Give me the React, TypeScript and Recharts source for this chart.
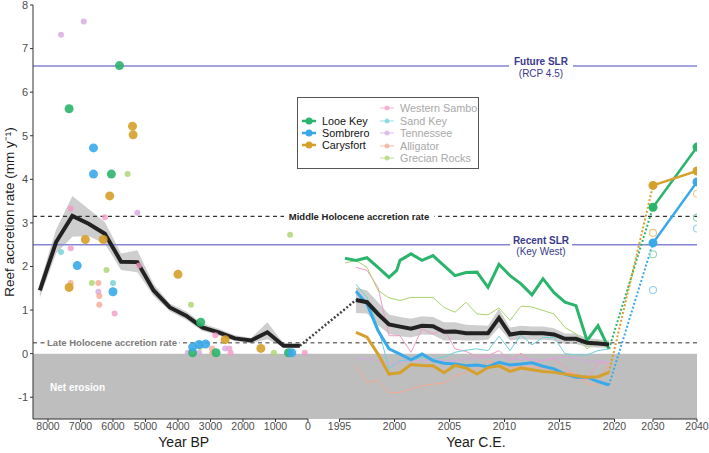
import React from "react";
import {
  ComposedChart,
  Line,
  Area,
  Scatter,
  XAxis,
  YAxis,
  ReferenceLine,
  ReferenceArea,
  Legend
} from "recharts";

const FONT = "'Liberation Sans', Arial, sans-serif";

// broken x axis: Year BP | Year C.E. | projections, laid side by side on one numeric axis
const BP_START = 8461;
const BP_K = 0.0325;
const CE_OFF = 306.5;
const CE_K = 11;
const FUT_OFF = 620;
const FUT_K = 4.4;
const bpX = (bp: number) => (BP_START - bp) * BP_K;
const ceX = (yr: number) => CE_OFF + (yr - 1995) * CE_K;
const futX = (yr: number) => FUT_OFF + (yr - 2030) * FUT_K;

const bpTicks = [8000, 7000, 6000, 5000, 4000, 3000, 2000, 1000, 0];
const ceTicks = [1995, 2000, 2005, 2010, 2015, 2020];
const futTicks = [2030, 2040];
const yTicks = [-1, 0, 1, 2, 3, 4, 5, 6, 7, 8];

/* reefs */
const reefs = ["Looe Key", "Sombrero", "Carysfort", "Western Sambo", "Sand Key", "Tennessee", "Alligator", "Grecian Rocks"];
const reefColors = ["#2bb56c", "#3aa9ea", "#d5a02b", "#f29ac6", "#6fd0da", "#d4a8e2", "#f6a88e", "#aad46e"];
const altColors = ["#93d9b0", "#93cff2", "#ebc982"];

/* Holocene composite (Year BP) */
const bpYears = [8250, 7750, 7250, 6750, 6250, 5750, 5250, 4750, 4250, 3750, 3250, 2750, 2250, 1750, 1250, 750, 250];
const bpMean = [1.45, 2.56, 3.16, 2.98, 2.75, 2.11, 2.1, 1.45, 1.06, 0.87, 0.6, 0.49, 0.35, 0.3, 0.49, 0.18, 0.18];
const bpLow = [1.28, 2.3, 2.68, 2.7, 2.52, 1.92, 1.87, 1.32, 0.97, 0.78, 0.52, 0.42, 0.29, 0.24, 0.33, 0.14, 0.14];
const bpHigh = [1.62, 2.85, 3.62, 3.32, 3.02, 2.3, 2.37, 1.6, 1.15, 0.97, 0.69, 0.57, 0.42, 0.36, 0.72, 0.23, 0.22];

/* Holocene cores: [years BP, rate] */
const looeCores = [[5800, 6.61], [7350, 5.62], [6050, 4.12], [3300, 0.72], [3550, 0.02], [2830, 0.02], [600, 0.02]];
const sombCores = [[6600, 4.72], [6600, 4.12], [7100, 2.02], [6000, 1.42], [3550, 0.15], [3350, 0.21], [3150, 0.22], [500, 0.02]];
const carysCores = [[5400, 5.22], [5380, 5.02], [6100, 3.62], [6850, 2.62], [6300, 2.62], [4000, 1.82], [7350, 1.52], [2550, 0.32], [1450, 0.12]];
const wsamboCores = [[7300, 3.33], [6250, 3.13], [7300, 2.42], [5200, 2.02], [5950, 0.92], [2850, 0.42], [2420, 0.12], [2380, 0.02], [100, 0.02]];
const sandCores = [[7600, 2.33], [6000, 1.62]];
const tennCores = [[7600, 7.32], [6900, 7.62], [5250, 3.23], [6450, 1.42], [3700, 0.02], [3350, 0.02], [2550, 0.12]];
const alliCores = [[7300, 1.62], [6450, 1.62], [6420, 1.32], [6420, 1.12], [2950, 0.12], [2950, 0.02]];
const grecCores = [[5550, 4.12], [6200, 1.92], [6650, 1.62], [3600, 1.12], [3320, 0.15], [1050, 0.02], [550, 2.73]];

/* census era (Year C.E.) */
const ceYears = [1996.5, 1997.5, 1998.5, 1999.5, 2000.5, 2001.5, 2002.5, 2003.5, 2004.5, 2005.5, 2006.5, 2007.5,
  2008.5, 2009.5, 2010.5, 2011.5, 2012.5, 2013.5, 2014.5, 2015.5, 2016.5, 2017.5, 2018.5, 2019.5];
const ceMean = [1.23, 1.18, 0.91, 0.67, 0.62, 0.57, 0.64, 0.63, 0.5, 0.51, 0.47, 0.47, 0.47, 0.82, 0.44, 0.48, 0.47, 0.47, 0.44, 0.34, 0.34, 0.25, 0.23, 0.21];
const ceLow = [0.93, 0.92, 0.65, 0.45, 0.4, 0.37, 0.44, 0.43, 0.3, 0.31, 0.3, 0.3, 0.32, 0.6, 0.3, 0.33, 0.32, 0.32, 0.3, 0.22, 0.22, 0.15, 0.14, 0.13];
const ceHigh = [1.52, 1.45, 1.18, 0.9, 0.84, 0.8, 0.86, 0.84, 0.72, 0.72, 0.66, 0.65, 0.64, 1.03, 0.6, 0.64, 0.62, 0.62, 0.58, 0.46, 0.46, 0.36, 0.33, 0.3];

const looeYears = [1995.5, 1996.5, 1997.5, 1998.5, 1999.5, 2000.2, 2000.5, 2001.5, 2002.5, 2003.5, 2004.5, 2005.5, 2006.5,
  2007.5, 2008.5, 2009.5, 2010.5, 2011.5, 2012.5, 2013.5, 2014.5, 2015.5, 2016.5, 2017.5, 2018.5, 2019.5];
const looeCE = [2.19, 2.14, 2.2, 1.98, 1.75, 1.91, 2.14, 2.29, 2.14, 2.25, 2.02, 1.79, 1.86, 1.87, 1.52, 2.05, 1.79, 1.6, 1.35, 1.72, 1.4, 1.18, 1.1, 0.3, 0.64, 0.11];
const sombCE = [1.43, 1.14, 0.53, 0.11, -0.01, -0.14, -0.01, -0.16, -0.22, -0.24, -0.28, -0.26, -0.3, -0.2, -0.26, -0.24, -0.21, -0.29, -0.35, -0.47, -0.54, -0.54, -0.64, -0.72];
const carysCE = [0.49, 0.38, -0.01, -0.47, -0.44, -0.25, -0.27, -0.28, -0.44, -0.27, -0.33, -0.47, -0.32, -0.28, -0.41, -0.33, -0.37, -0.41, -0.43, -0.47, -0.51, -0.54, -0.53, -0.43];
const wsamboCE = [1.98, 1.91, 1.52, 0.41, 0.41, 0.03, 0.57, 0.45, 0.57, 0.11, 0.05, -0.07, -0.05, 0.07, -0.16, 0.01, -0.2, -0.16, -0.12, -0.31, -0.54, -0.6, -0.21, -0.21];
const sandCE = [1.59, 1.29, 0.6, -0.34, -0.16, -0.16, -0.08, -0.12, -0.08, 0.03, 0.08, 0.11, 0.07, 0.4, 0.07, 0.43, 0.2, 0.37, 0.37, 0.0, -0.03, -0.03, 0.07, 0.11];
const tennCE = [-0.11, -0.12, -0.16, -0.24, -0.2, -0.16, -0.16, -0.14, -0.16, -0.16, -0.12, -0.1, -0.08, -0.05, -0.12, -0.14, -0.12, -0.16, -0.1, -0.08, -0.1, -0.2, -0.16, -0.2];
const alliCE = [-0.28, -0.66, -0.62, -0.89, -0.89, -0.81, -0.74, -0.7, -0.68, -0.51, -0.43, -0.36, -0.16, -0.25, -0.33, -0.3, -0.3, -0.33, -0.38, -0.43, -0.45, -0.7, -0.7, -0.21];
const grecYears = [1995.5, ...ceYears];
const grecCE = [2.08, 2.14, 1.98, 1.45, 1.28, 1.22, 1.29, 1.29, 1.29, 1.06, 0.95, 1.18, 0.91, 0.89, 1.05, 0.76, 1.09, 1.07, 0.99, 0.91, 0.6, 0.45, 0.11, 0.3, 0.11];

/* projections */
const futYears = [2030, 2040];
const looeFut = [3.36, 4.74];
const sombFut = [2.54, 3.94];
const carysFut = [3.86, 4.19];
const looeAlt = [2.28, 3.12];
const sombAlt = [1.46, 2.87];
const carysAlt = [2.77, 3.67];

/* reference rates */
const futureSLR = 6.6;
const recentSLR = 2.5;
const midHolocene = 3.15;
const lateHolocene = 0.25;

const tickPos = [...bpTicks.map(bpX), ...ceTicks.map(ceX), ...futTicks.map(futX)];
const tickText = [...bpTicks, ...ceTicks, ...futTicks].map(String);
const fmtTick = (v: number) => {
  let best = 0;
  tickPos.forEach((p, i) => { if (Math.abs(p - v) < Math.abs(tickPos[best] - v)) best = i; });
  return tickText[best];
};

const series = (xs: number[], ys: number[], f: (v: number) => number) => xs.map((x, i) => ({ x: f(x), y: ys[i] }));
const band = (xs: number[], lo: number[], hi: number[], f: (v: number) => number) =>
  xs.map((x, i) => ({ x: f(x), range: [lo[i], hi[i]] }));
const cores = (c: number[][]) => c.map(([bp, v]) => ({ x: bpX(bp), y: v }));
const bridge = (x1: number, y1: number, x2: number, y2: number) => [{ x: x1, y: y1 }, { x: x2, y: y2 }];

const dot = (r: number, fill: string, opacity: number) => (p: any) =>
  <circle cx={p.cx} cy={p.cy} r={r} fill={fill} fillOpacity={opacity} />;
const ring = (stroke: string) => (p: any) =>
  <circle cx={p.cx} cy={p.cy} r={3.5} fill="none" stroke={stroke} strokeWidth={1.1} />;

function LineLabel(props: any) {
  const { viewBox, frac, gap, color, lines } = props;
  const cx = viewBox.x + viewBox.width * frac;
  const cy = viewBox.y;
  return (
    <g>
      <rect x={cx - gap / 2} y={cy - 3} width={gap} height={6} fill="#fff" />
      {lines.map((l: any, i: number) => (
        <text key={i} x={cx} y={cy + l.dy} textAnchor="middle" fontSize={l.size} fontWeight={l.bold ? 700 : 400}
          fill={color} fontFamily={FONT}>{l.text}</text>
      ))}
    </g>
  );
}

function ErosionLabel(props: any) {
  const { viewBox } = props;
  return (
    <text x={viewBox.x + 17} y={viewBox.y + 37} fontSize={10} fontWeight={700} fill="#fff" fontFamily={FONT}>
      Net erosion
    </text>
  );
}

function YTitle(props: any) {
  const { viewBox } = props;
  const cx = viewBox.x + 9;
  const cy = viewBox.y + viewBox.height / 2;
  return (
    <text x={cx} y={cy} transform={`rotate(-90, ${cx}, ${cy})`} textAnchor="middle" dominantBaseline="central"
      fontSize={13.5} fill="#1a1a1a" fontFamily={FONT}>
      Reef accretion rate (mm y⁻¹)
    </text>
  );
}

function XTitles(props: any) {
  const { viewBox } = props;
  const y = viewBox.y + viewBox.height - 2;
  return (
    <g fontSize={14} fill="#1a1a1a" fontFamily={FONT} textAnchor="middle">
      <text x={viewBox.x + viewBox.width * 0.227} y={y}>Year BP</text>
      <text x={viewBox.x + viewBox.width * 0.667} y={y}>Year C.E.</text>
    </g>
  );
}

function Marker({ color, faded }: { color: string; faded: boolean }) {
  return (
    <svg width={16} height={8} style={{ position: "absolute", left: 0, top: 2 }}>
      <line x1={1} y1={4} x2={15} y2={4} stroke={color} strokeWidth={faded ? 1 : 2.5} opacity={faded ? 0.7 : 1} />
      <circle cx={8} cy={4} r={faded ? 2.5 : 3.5} fill={color} opacity={faded ? 0.7 : 1} />
    </svg>
  );
}

function ReefLegend() {
  const rows = reefs.map((name, i) => {
    const faded = i > 2;
    const left = faded ? 81 : 3;
    const top = faded ? 4 + (i - 3) * 12.5 : 17 + i * 12;
    return (
      <div key={name} style={{ position: "absolute", left, top, height: 12, paddingLeft: 21, whiteSpace: "nowrap",
        color: faded ? "#a8a8a8" : "#111", fontSize: 10.8, lineHeight: "12px" }}>
        <Marker color={reefColors[i]} faded={faded} />
        {name}
      </div>
    );
  });
  return (
    <div style={{ position: "relative", width: 182, height: 72, border: "1px solid #555", boxSizing: "border-box",
      background: "#fff", fontFamily: FONT }}>
      {rows}
    </div>
  );
}

export default function App() {
  return (
    <div style={{ position: "relative", width: 709, height: 453, background: "#fff" }}>
      <style>{"body{margin:0}"}</style>
      <ComposedChart width={709} height={453} margin={{ top: 5, right: 12, bottom: 4, left: 0 }}>
        <XAxis type="number" dataKey="x" domain={[0, 664]} ticks={tickPos} tickFormatter={fmtTick} interval={0}
          allowDataOverflow axisLine={false} tickLine={{ stroke: "#333" }} tickSize={3} tickMargin={1} height={30}
          tick={{ fontSize: 10.5, fill: "#4d4d4d", fontFamily: FONT }} label={<XTitles />} />
        <YAxis type="number" domain={[-1.5, 8]} ticks={yTicks} interval={0} allowDataOverflow width={33}
          axisLine={{ stroke: "#333" }} tickLine={{ stroke: "#333" }} tickSize={3} tickMargin={2}
          tick={{ fontSize: 11, fill: "#4d4d4d", fontFamily: FONT }} label={<YTitle />} />
        <Legend layout="vertical" align="center" verticalAlign="middle" content={() => <ReefLegend />}
          wrapperStyle={{ left: 297, top: 97, width: 182, height: 72 }} />

        <ReferenceArea x1={0} x2={664} y1={-1.5} y2={0} fill="#bebebe" fillOpacity={1} stroke="none" ifOverflow="visible"
          label={<ErosionLabel />} />

        {/* broken bottom axis */}
        <ReferenceLine segment={[{ x: bpX(BP_START), y: -1.5 }, { x: bpX(0), y: -1.5 }]} stroke="#333" ifOverflow="visible" />
        <ReferenceLine segment={[{ x: ceX(1995), y: -1.5 }, { x: ceX(2020), y: -1.5 }]} stroke="#333" ifOverflow="visible" />
        <ReferenceLine segment={[{ x: futX(2030), y: -1.5 }, { x: futX(2040), y: -1.5 }]} stroke="#333" ifOverflow="visible" />

        <ReferenceLine y={futureSLR} stroke="#8585d6" strokeWidth={1.6}
          label={<LineLabel frac={0.765} gap={64} color="#3a3a8c" lines={[
            { text: "Future SLR", dy: -1, size: 10, bold: true },
            { text: "(RCP 4.5)", dy: 10.5, size: 10 }]} />} />
        <ReferenceLine y={recentSLR} stroke="#8585d6" strokeWidth={1.6}
          label={<LineLabel frac={0.765} gap={62} color="#3a3a8c" lines={[
            { text: "Recent SLR", dy: -1, size: 10, bold: true },
            { text: "(Key West)", dy: 10.5, size: 10 }]} />} />
        <ReferenceLine y={midHolocene} stroke="#333" strokeWidth={1.4} strokeDasharray="4 3.5"
          label={<LineLabel frac={0.491} gap={150} color="#222" lines={[
            { text: "Middle Holocene accretion rate", dy: 3.4, size: 9.5, bold: true }]} />} />
        <ReferenceLine y={lateHolocene} stroke="#777" strokeWidth={1.4} strokeDasharray="4 3.5"
          label={<LineLabel frac={0.119} gap={134} color="#7a7a7a" lines={[
            { text: "Late Holocene accretion rate", dy: 3.4, size: 9.5, bold: true }]} />} />

        {/* confidence ribbons */}
        <Area data={band(bpYears, bpLow, bpHigh, bpX)} dataKey="range" type="linear" stroke="none" fill="#bdbdbd"
          fillOpacity={0.75} isAnimationActive={false} />
        <Area data={band(ceYears, ceLow, ceHigh, ceX)} dataKey="range" type="linear" stroke="none" fill="#bdbdbd"
          fillOpacity={0.75} isAnimationActive={false} />

        {/* secondary reefs */}
        <Line data={series(ceYears, wsamboCE, ceX)} dataKey="y" stroke={reefColors[3]} strokeWidth={1} dot={false} isAnimationActive={false} />
        <Line data={series(ceYears, sandCE, ceX)} dataKey="y" stroke={reefColors[4]} strokeWidth={1} dot={false} isAnimationActive={false} />
        <Line data={series(ceYears, tennCE, ceX)} dataKey="y" stroke={reefColors[5]} strokeWidth={1} dot={false} isAnimationActive={false} />
        <Line data={series(ceYears, alliCE, ceX)} dataKey="y" stroke={reefColors[6]} strokeWidth={1} dot={false} isAnimationActive={false} />
        <Line data={series(grecYears, grecCE, ceX)} dataKey="y" stroke={reefColors[7]} strokeWidth={1} dot={false} isAnimationActive={false} />
        <Scatter data={cores(wsamboCores)} dataKey="y" shape={dot(3, reefColors[3], 0.8)} isAnimationActive={false} />
        <Scatter data={cores(sandCores)} dataKey="y" shape={dot(3, reefColors[4], 0.8)} isAnimationActive={false} />
        <Scatter data={cores(tennCores)} dataKey="y" shape={dot(3, reefColors[5], 0.8)} isAnimationActive={false} />
        <Scatter data={cores(alliCores)} dataKey="y" shape={dot(3, reefColors[6], 0.8)} isAnimationActive={false} />
        <Scatter data={cores(grecCores)} dataKey="y" shape={dot(3, reefColors[7], 0.8)} isAnimationActive={false} />

        {/* main reefs, census era */}
        <Line data={series(looeYears, looeCE, ceX)} dataKey="y" stroke={reefColors[0]} strokeWidth={3} dot={false} isAnimationActive={false} />
        <Line data={series(ceYears, sombCE, ceX)} dataKey="y" stroke={reefColors[1]} strokeWidth={3} dot={false} isAnimationActive={false} />
        <Line data={series(ceYears, carysCE, ceX)} dataKey="y" stroke={reefColors[2]} strokeWidth={3} dot={false} isAnimationActive={false} />

        {/* composite means */}
        <Line data={bridge(bpX(bpYears[16]), bpMean[16], ceX(ceYears[0]), ceMean[0])} dataKey="y" stroke="#444"
          strokeWidth={2.5} strokeDasharray="2 2" dot={false} isAnimationActive={false} />
        <Line data={series(bpYears, bpMean, bpX)} dataKey="y" stroke="#222" strokeWidth={4} dot={false} isAnimationActive={false} />
        <Line data={series(ceYears, ceMean, ceX)} dataKey="y" stroke="#222" strokeWidth={4} dot={false} isAnimationActive={false} />

        <Scatter data={cores(looeCores)} dataKey="y" shape={dot(4.5, reefColors[0], 0.9)} isAnimationActive={false} />
        <Scatter data={cores(sombCores)} dataKey="y" shape={dot(4.5, reefColors[1], 0.9)} isAnimationActive={false} />
        <Scatter data={cores(carysCores)} dataKey="y" shape={dot(4.5, reefColors[2], 0.9)} isAnimationActive={false} />

        {/* projections */}
        <Line data={bridge(ceX(2019.5), looeCE[25], futX(2030), looeFut[0])} dataKey="y" stroke={reefColors[0]}
          strokeWidth={2} strokeDasharray="2 2" dot={false} isAnimationActive={false} />
        <Line data={bridge(ceX(2019.5), carysCE[23], futX(2030), carysFut[0])} dataKey="y" stroke={reefColors[2]}
          strokeWidth={2} strokeDasharray="2 2" dot={false} isAnimationActive={false} />
        <Line data={bridge(ceX(2019.5), sombCE[23], futX(2030), sombFut[0])} dataKey="y" stroke={reefColors[1]}
          strokeWidth={2} strokeDasharray="2 2" dot={false} isAnimationActive={false} />
        <Line data={series(futYears, looeFut, futX)} dataKey="y" stroke={reefColors[0]} strokeWidth={2.5}
          dot={{ r: 4.5, fill: reefColors[0], stroke: "none" }} isAnimationActive={false} />
        <Line data={series(futYears, carysFut, futX)} dataKey="y" stroke={reefColors[2]} strokeWidth={2.5}
          dot={{ r: 4.5, fill: reefColors[2], stroke: "none" }} isAnimationActive={false} />
        <Line data={series(futYears, sombFut, futX)} dataKey="y" stroke={reefColors[1]} strokeWidth={2.5}
          dot={{ r: 4.5, fill: reefColors[1], stroke: "none" }} isAnimationActive={false} />
        <Scatter data={series(futYears, looeAlt, futX)} dataKey="y" shape={ring(altColors[0])} isAnimationActive={false} />
        <Scatter data={series(futYears, sombAlt, futX)} dataKey="y" shape={ring(altColors[1])} isAnimationActive={false} />
        <Scatter data={series(futYears, carysAlt, futX)} dataKey="y" shape={ring(altColors[2])} isAnimationActive={false} />
      </ComposedChart>
    </div>
  );
}
